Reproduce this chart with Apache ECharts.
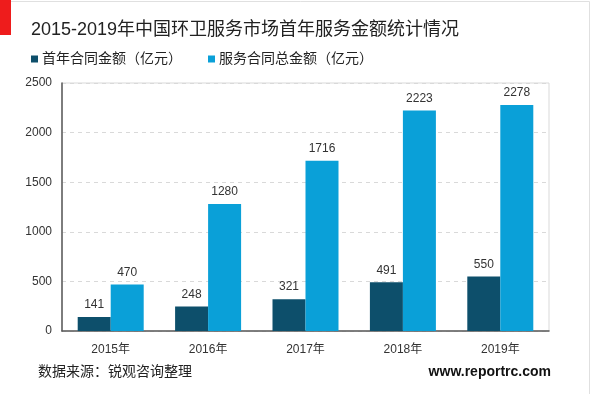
<!DOCTYPE html>
<html><head><meta charset="utf-8">
<script src="https://cdn.jsdelivr.net/npm/echarts@6/dist/echarts.min.js"></script>
<style>html,body{margin:0;padding:0;background:#fff}#c{width:600px;height:394px}</style>
</head><body><div id="c"></div>
<script>
var categories = ['2015年','2016年','2017年','2018年','2019年'];
var firstYear = [141, 248, 321, 491, 550];
var totalContract = [470, 1280, 1716, 2223, 2278];
var seriesNames = ['首年合同金额（亿元）','服务合同总金额（亿元）'];
var titleText = '2015-2019年中国环卫服务市场首年服务金额统计情况';
var sourceText = '数据来源：锐观咨询整理';
var siteText = 'www.reportrc.com';

var chart = echarts.init(document.getElementById('c'), null, {renderer:'canvas'});
var font = 'Arial, "Liberation Sans", "Noto Sans CJK SC", sans-serif';
chart.setOption({
  animation:false,
  backgroundColor:'#fff',
  textStyle:{fontFamily:font},
  title:{text:titleText, left:26, top:16, textStyle:{fontSize:18, fontWeight:'normal', color:'#222', fontFamily:font}},
  legend:{left:26, top:47, itemWidth:7, itemHeight:7, icon:'rect', itemGap:26,
    textStyle:{fontSize:14, color:'#222', fontFamily:font, padding:[0,0,0,-1]},
    data:seriesNames},
  grid:{left:62, top:83, right:51, bottom:63, show:true, borderColor:'#d9d9d9', borderWidth:1, backgroundColor:'transparent'},
  xAxis:{type:'category', data:categories,
    axisLine:{lineStyle:{color:'#595959', width:1.5}}, axisTick:{show:false},
    axisLabel:{fontSize:12, color:'#333', margin:13}},
  yAxis:{type:'value', min:0, max:2500, interval:500,
    axisLine:{show:true, lineStyle:{color:'#595959', width:1.5}}, axisTick:{show:false},
    axisLabel:{fontSize:12, color:'#333', margin:10, formatter:function(v){return String(v);}},
    splitLine:{lineStyle:{color:'#d9d9d9', type:[4,4]}}},
  series:[
    {name:seriesNames[0], type:'bar', data:firstYear, barWidth:33, barGap:'0%',
     itemStyle:{color:'#0d4f6b'},
     label:{show:true, position:'top', distance:6, fontSize:12, color:'#333'}},
    {name:seriesNames[1], type:'bar', data:totalContract, barWidth:33, barGap:'0%',
     itemStyle:{color:'#0aa0d8'},
     label:{show:true, position:'top', distance:6, fontSize:12, color:'#333'}}
  ],
  graphic:[
    {type:'rect', shape:{x:0,y:0,width:11,height:35}, style:{fill:'#ee1c1c'}},
    {type:'line', shape:{x1:11,y1:1.5,x2:589.5,y2:1.5}, style:{stroke:'#e0e0e0', lineWidth:1}},
    {type:'line', shape:{x1:589.5,y1:1.5,x2:589.5,y2:394}, style:{stroke:'#e0e0e0', lineWidth:1}},
    {type:'text', left:38, top:365, style:{text:sourceText, fontSize:14, fill:'#222', fontFamily:font}},
    {type:'text', right:49, top:365, style:{text:siteText, fontSize:14, fontWeight:'bold', fill:'#111', fontFamily:font}}
  ]
});
</script></body></html>
